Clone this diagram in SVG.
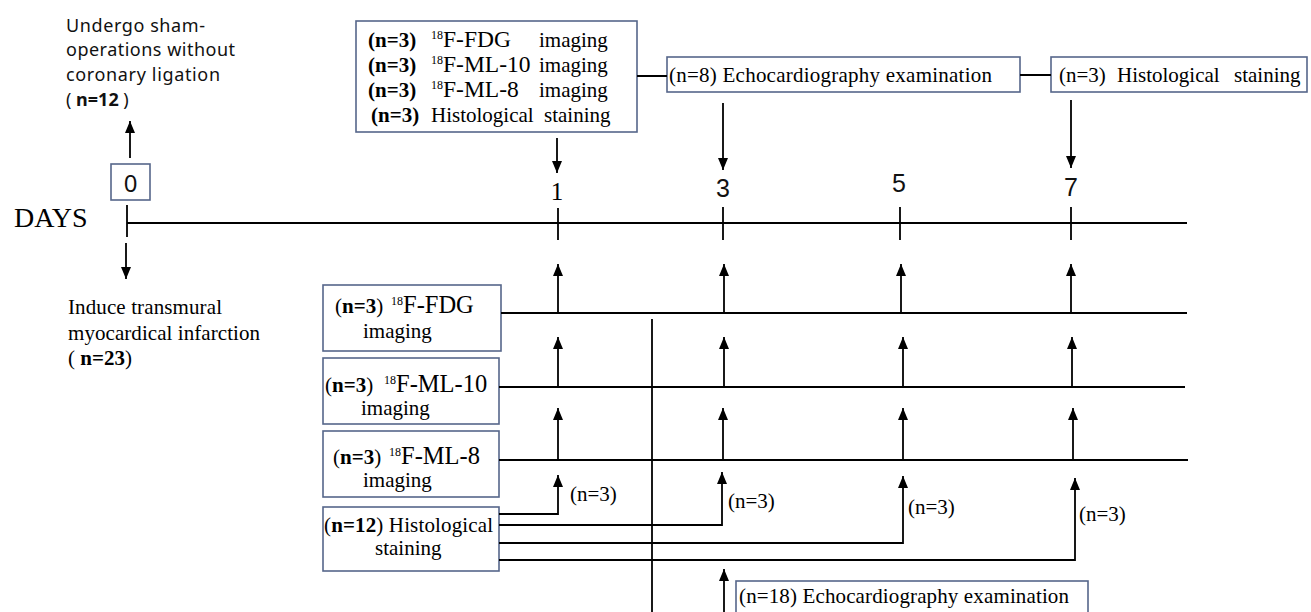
<svg xmlns="http://www.w3.org/2000/svg" width="1311" height="612" viewBox="0 0 1311 612">
<style>
.box{fill:#fff;stroke:#56668a;stroke-width:1.6}
.ln{stroke:#000;stroke-width:1.8;fill:none}
.ar{stroke:#000;stroke-width:1.8;fill:none;marker-end:url(#ah)}
.s{font-family:"Liberation Serif","Times New Roman",serif;font-size:21px;fill:#000}
.b{font-weight:bold}
.sup{font-size:12px}
.big{font-size:23.5px}
.big2{font-size:24.5px}
.sans{font-family:"Noto Sans","Open Sans",sans-serif;font-size:18px;fill:#111}
.num{font-family:"Liberation Sans",Arial,sans-serif;font-size:25px;fill:#111}
</style>
<defs>
<marker id="ah" markerUnits="userSpaceOnUse" viewBox="0 0 12 10" markerWidth="12" markerHeight="10" refX="12" refY="5" orient="auto">
<path d="M0,0 L12,5 L0,10 Z" fill="#000"/>
</marker>
</defs>

<g id="sham">
<text class="sans" x="66" y="32" textLength="139" lengthAdjust="spacing">Undergo sham-</text>
<text class="sans" x="66" y="56" textLength="169" lengthAdjust="spacing">operations without</text>
<text class="sans" x="66" y="81" textLength="154" lengthAdjust="spacing">coronary ligation</text>
<text class="sans" x="66" y="106">( <tspan font-weight="bold">n=12</tspan> )</text>
</g>

<g id="day0">
<rect class="box" x="111" y="164" width="39" height="36"/>
<text class="sans" x="130.5" y="192" style="font-size:24px" text-anchor="middle">0</text>
</g>

<g id="days-label">
<text class="s" x="14" y="227" style="font-size:28px">DAYS</text>
</g>

<g id="mi">
<text class="s" x="68" y="314" textLength="154" lengthAdjust="spacing">Induce transmural</text>
<text class="s" x="68" y="340" textLength="192" lengthAdjust="spacing">myocardical infarction</text>
<text class="s" x="68" y="365">( <tspan class="b">n=23</tspan>)</text>
</g>

<g id="day1-sham">
<rect class="box" x="356" y="21" width="281" height="111"/>
<text class="s b" x="368" y="47">(n=3)</text>
<text class="s" x="431" y="47"><tspan class="sup" dy="-8">18</tspan><tspan class="big" dy="8">F-FDG</tspan></text>
<text class="s" x="539" y="47">imaging</text>
<text class="s b" x="368" y="72">(n=3)</text>
<text class="s" x="431" y="72"><tspan class="sup" dy="-8">18</tspan><tspan class="big" dy="8">F-ML-10</tspan></text>
<text class="s" x="539" y="72">imaging</text>
<text class="s b" x="368" y="97">(n=3)</text>
<text class="s" x="431" y="97"><tspan class="sup" dy="-8">18</tspan><tspan class="big" dy="8">F-ML-8</tspan></text>
<text class="s" x="539" y="97">imaging</text>
<text class="s b" x="371" y="122">(n=3)</text>
<text class="s" x="431" y="122">Histological</text>
<text class="s" x="544" y="122">staining</text>
</g>

<g id="echo8">
<rect class="box" x="667" y="57" width="353" height="35"/>
<text class="s" x="669" y="82" textLength="323" lengthAdjust="spacing">(n=8) Echocardiography examination</text>
</g>

<g id="hist3">
<rect class="box" x="1051" y="57" width="256" height="35"/>
<text class="s" x="1059" y="82">(n=3)</text>
<text class="s" x="1117" y="82">Histological</text>
<text class="s" x="1234" y="82">staining</text>
</g>

<g id="day-numbers">
<text class="s" x="557" y="200" style="font-size:25px" text-anchor="middle">1</text>
<text class="num" x="723" y="197" text-anchor="middle">3</text>
<text class="num" x="899" y="192" text-anchor="middle">5</text>
<text class="num" x="1071" y="196" text-anchor="middle">7</text>
</g>

<g id="fdg">
<rect class="box" x="323" y="285" width="178" height="66"/>
<text class="s" x="335" y="313">(<tspan class="b">n=3</tspan>)</text>
<text class="s" x="391" y="313"><tspan class="sup" dy="-8">18</tspan><tspan class="big2" dy="8">F-FDG</tspan></text>
<text class="s" x="363" y="338">imaging</text>
</g>

<g id="ml10">
<rect class="box" x="323" y="358" width="176" height="66"/>
<text class="s" x="325" y="392">(<tspan class="b">n=3</tspan>)</text>
<text class="s" x="384" y="392"><tspan class="sup" dy="-8">18</tspan><tspan class="big2" dy="8">F-ML-10</tspan></text>
<text class="s" x="361" y="415">imaging</text>
</g>

<g id="ml8">
<rect class="box" x="323" y="431" width="176" height="66"/>
<text class="s" x="333" y="464">(<tspan class="b">n=3</tspan>)</text>
<text class="s" x="389" y="464"><tspan class="sup" dy="-8">18</tspan><tspan class="big2" dy="8">F-ML-8</tspan></text>
<text class="s" x="363" y="487">imaging</text>
</g>

<g id="hist12">
<rect class="box" x="323" y="507" width="176" height="64"/>
<text class="s" x="324" y="532" textLength="169" lengthAdjust="spacing">(<tspan class="b">n=12</tspan>) Histological</text>
<text class="s" x="375" y="555">staining</text>
</g>

<g id="echo18">
<rect class="box" x="736" y="581" width="352" height="50"/>
<text class="s" x="739" y="603" textLength="330" lengthAdjust="spacing">(n=18) Echocardiography examination</text>
</g>

<g id="n3-labels">
<text class="s" x="570" y="501">(n=3)</text>
<text class="s" x="728" y="508">(n=3)</text>
<text class="s" x="908" y="514">(n=3)</text>
<text class="s" x="1079" y="521">(n=3)</text>
</g>

<g id="connectors">
<path class="ar" d="M130,158 V121"/>
<path class="ln" d="M127,223 H1187"/>
<path class="ln" d="M127,205 V237"/>
<path class="ar" d="M126,243 V279"/>
<path class="ln" d="M558,208 V240 M723,207 V240 M900,207 V240 M1071,207 V240"/>
<path class="ar" d="M557,138 V173"/>
<path class="ar" d="M723,103 V170"/>
<path class="ar" d="M1071,100 V168"/>
<path class="ln" d="M637,76 H667 M1020,75 H1051"/>
<path class="ln" d="M501,313 H1187 M499,387 H1185 M499,460 H1188"/>
<path class="ln" d="M652,319 V612"/>
<path class="ar" d="M558,313 V264"/>
<path class="ar" d="M724,313 V264"/>
<path class="ar" d="M901,313 V264"/>
<path class="ar" d="M1071,313 V264"/>
<path class="ar" d="M558,387 V337"/>
<path class="ar" d="M724,387 V337"/>
<path class="ar" d="M903,387 V337"/>
<path class="ar" d="M1072,387 V337"/>
<path class="ar" d="M558,460 V408"/>
<path class="ar" d="M723,460 V408"/>
<path class="ar" d="M903,460 V408"/>
<path class="ar" d="M1073,460 V408"/>
<path class="ar" d="M499,514 H558 V475"/>
<path class="ar" d="M499,525 H722 V472"/>
<path class="ar" d="M499,543 H903 V476"/>
<path class="ar" d="M499,560 H1075 V478"/>
<path class="ar" d="M724,612 V569"/>
</g>
</svg>
